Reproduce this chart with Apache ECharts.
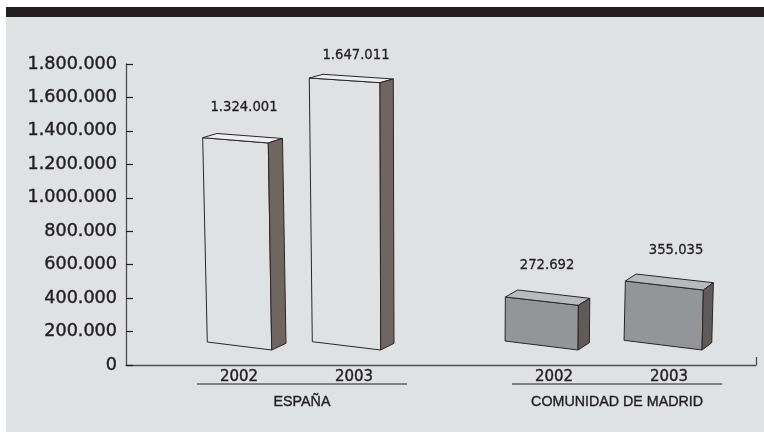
<!DOCTYPE html>
<html><head><meta charset="utf-8">
<style>html,body{margin:0;padding:0;background:#fff}#c{width:764px;height:432px}</style>
<script src="https://cdn.jsdelivr.net/npm/echarts@6/dist/echarts.min.js"></script>
</head><body><div id="c"></div>
<script>
// ---- data ----
const groupNames = ['ESPAÑA', 'COMUNIDAD DE MADRID'];
const years = ['2002', '2003', '2002', '2003'];
const values = [1324001, 1647011, 272692, 355035];
const yTicks = [0, 200000, 400000, 600000, 800000, 1000000, 1200000, 1400000, 1600000, 1800000];
const slots = [1, 2, 3.74, 4.74];
const groupSlots = [[0, 1], [2, 3]];

// ---- drawn perspective of each box, px offsets around its axis anchor ----
const boxes = [
  {rise: 0.6, flt: [-36.3, -5.3], frt: 29.3, brt: [43.5, -4.5], blt: [-22, -9.5], flb: [-31.7, -8], frb: 32.7, brb: [47, -6.7], label: [5, -35]},
  {rise: 6.9, flt: [-44.7, -4.7], frt: 26, brt: [39.3, -3.7], blt: [-31, -8.4], flb: [-41.7, -8.3], frb: 26.7, brb: [40, -6.7], label: [2, -26.7]},
  {rise: 14.1, flt: [-48.7, -8.3], frt: 24.3, brt: [35.7, -7], blt: [-36.3, -15.3], flb: [-49, -9], frb: 24, brb: [35.3, -7.3], label: [-7, -40]},
  {rise: 15.6, flt: [-43.7, -9], frt: 34.3, brt: [44.3, -7.3], blt: [-33, -16], flb: [-45, -9.7], frb: 33, brb: [42.7, -7.3], label: [7, -39]}
];
const palettes = [
  {front: '#e0e1e3', top: '#eeeeef', side: '#6f6661', stroke: '#2a2627'},
  {front: '#e0e1e3', top: '#eeeeef', side: '#6f6661', stroke: '#2a2627'},
  {front: '#949598', top: '#b9babc', side: '#605b58', stroke: '#2a2627'},
  {front: '#949598', top: '#b9babc', side: '#605b58', stroke: '#2a2627'}
];
const INK = '#231f20';
const dotted = v => String(v).replace(/\B(?=(\d{3})+$)/g, '.');
const BASE_LIFT = 15;

const poly = (pts, fill, stroke) => ({
  type: 'polygon',
  shape: {points: pts},
  style: {fill: fill, stroke: stroke, lineWidth: 1, lineJoin: 'round'}
});

function renderBox(params, api) {
  const i = params.dataIndex, b = boxes[i], p = palettes[i];
  const top = api.coord([api.value(0), api.value(1)]);
  const zero = api.coord([api.value(0), 0]);
  const ax = top[0], ty = top[1] - b.rise, by = zero[1] - BASE_LIFT;
  const FRT = [ax + b.frt, ty], FRB = [ax + b.frb, by];
  const FLT = [ax + b.flt[0], ty + b.flt[1]], BRT = [ax + b.brt[0], ty + b.brt[1]];
  const BLT = [ax + b.blt[0], ty + b.blt[1]];
  const FLB = [ax + b.flb[0], by + b.flb[1]], BRB = [ax + b.brb[0], by + b.brb[1]];
  return {
    type: 'group',
    children: [
      poly([FLT, FRT, FRB, FLB], p.front, p.stroke),
      poly([FLT, BLT, BRT, FRT], p.top, p.stroke),
      poly([FRT, BRT, BRB, FRB], p.side, p.stroke),
      {type: 'text', style: {
        text: dotted(api.value(1)), x: ax + b.label[0], y: ty + b.label[1],
        align: 'center', verticalAlign: 'middle',
        font: '13.2px "DejaVu Sans"', fill: INK, stroke: INK, lineWidth: 0.3
      }}
    ]
  };
}

function renderGroup(params, api) {
  const g = groupSlots[params.dataIndex];
  const left = api.coord([slots[g[0]], 0]), right = api.coord([slots[g[1]], 0]);
  const x0 = left[0] - 42, x1 = right[0] + 53, y = left[1];
  return {
    type: 'group',
    children: [
      {type: 'line', shape: {x1: x0, y1: y + 19, x2: x1, y2: y + 19}, style: {stroke: INK, lineWidth: 1.2}},
      {type: 'text', x: (x0 + x1) / 2, y: y + 36.5, scaleX: 0.92, style: {
        text: groupNames[params.dataIndex], x: 0, y: 0,
        align: 'center', verticalAlign: 'middle',
        font: '15.5px "Liberation Sans"', fill: INK, stroke: INK, lineWidth: 0.4
      }}
    ]
  };
}

const chart = echarts.init(document.getElementById('c'), null, {renderer: 'canvas'});
chart.setOption({
  animation: false,
  backgroundColor: '#ffffff',
  graphic: [
    {type: 'rect', z: -10, shape: {x: 6, y: 17, width: 758, height: 415}, style: {fill: '#e0e1e3'}},
    {type: 'rect', z: -10, shape: {x: 6, y: 7, width: 758, height: 10}, style: {fill: INK}}
  ],
  grid: {left: 126, right: 8, top: 64, bottom: 67, containLabel: false},
  xAxis: {
    type: 'value', min: 0.0174, max: 5.496, splitLine: {show: false},
    axisLine: {show: true, lineStyle: {color: '#4f4d4d', width: 1.3}},
    axisTick: {show: true, inside: true, length: 8, customValues: [5.496], lineStyle: {color: '#4f4d4d', width: 1.3}},
    axisLabel: {
      show: true, customValues: slots, margin: 5, hideOverlap: false,
      formatter: (v, idx) => years[slots.indexOf(v)] ?? years[idx],
      color: INK, fontFamily: 'DejaVu Sans', fontSize: 15,
      textBorderColor: INK, textBorderWidth: 0.4
    }
  },
  yAxis: {
    type: 'value', min: 0, max: 1800000, interval: 200000, splitLine: {show: false},
    axisLine: {show: true, lineStyle: {color: '#4f4d4d', width: 1.3}},
    axisTick: {show: true, inside: true, length: 7, lineStyle: {color: '#231f20', width: 1.2}},
    axisLabel: {
      margin: 9, color: INK, fontFamily: 'DejaVu Sans', fontSize: 17.6,
      textBorderColor: INK, textBorderWidth: 0.4,
      formatter: v => dotted(yTicks[yTicks.indexOf(v)])
    }
  },
  series: [
    {type: 'custom', silent: true, z: 5, renderItem: renderBox,
     encode: {x: 0, y: 1}, data: values.map((v, i) => [slots[i], v])},
    {type: 'custom', silent: true, z: 5, renderItem: renderGroup,
     encode: {x: 0, y: 1}, data: groupNames.map((n, i) => [slots[groupSlots[i][0]], 0])}
  ]
});
</script></body></html>
